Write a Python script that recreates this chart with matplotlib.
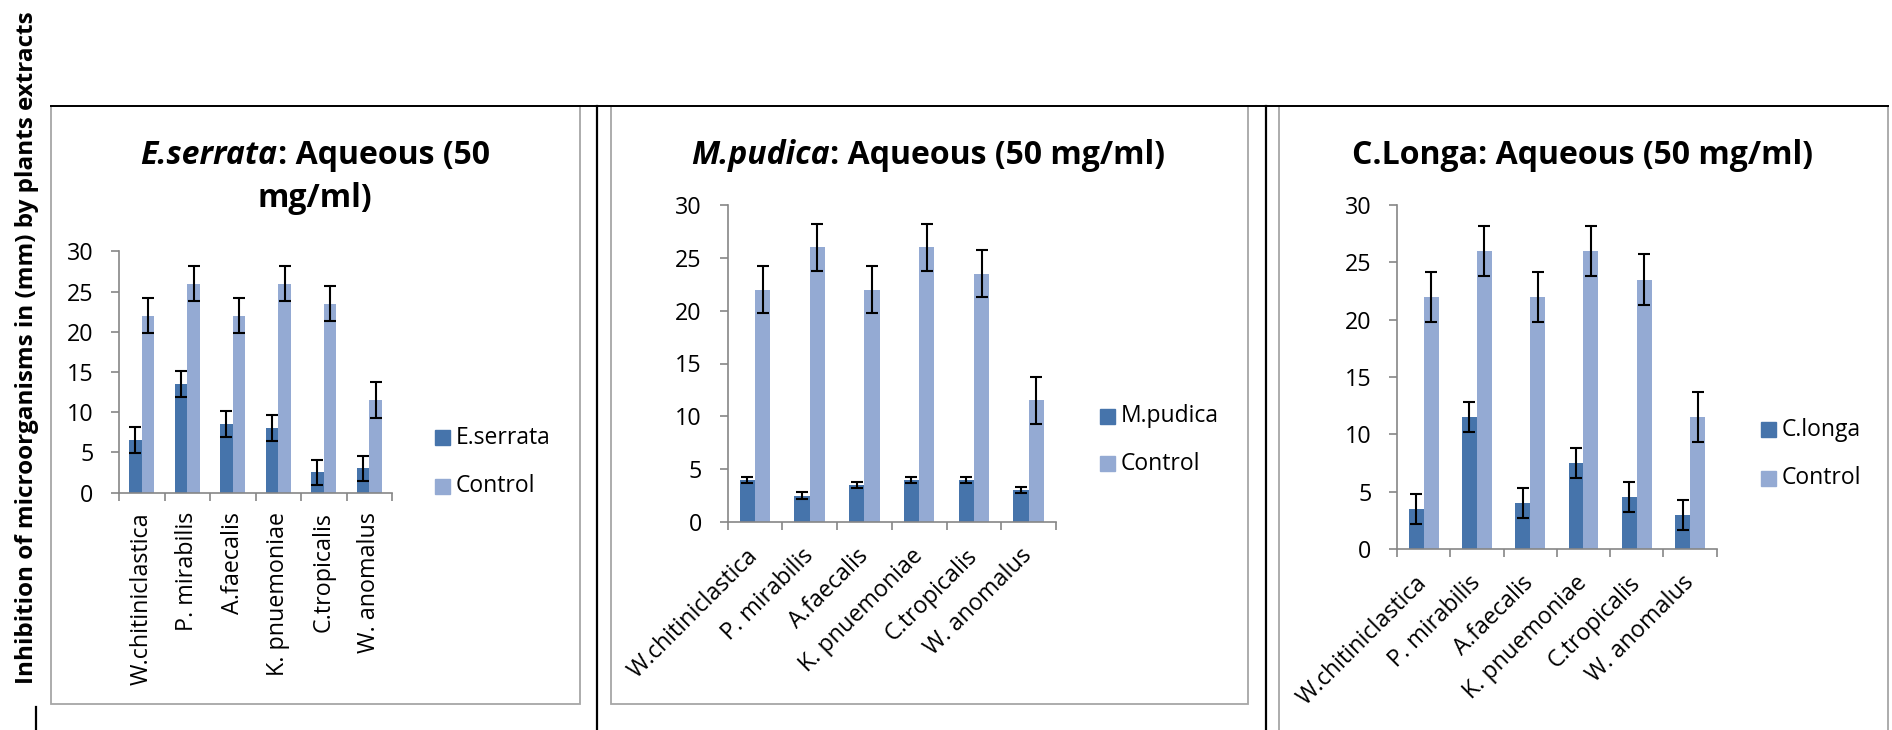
import matplotlib
matplotlib.use("Agg")
import matplotlib.pyplot as plt
from matplotlib.patches import Rectangle
from matplotlib.lines import Line2D
import numpy as np

plt.rcParams['font.family'] = ['Open Sans', 'DejaVu Sans']

# data
categories = ["W.chitiniclastica", "P. mirabilis", "A.faecalis",
              "K. pnuemoniae", "C.tropicalis", "W. anomalus"]
control = [22, 26, 22, 26, 23.5, 11.5]
control_err = [2.2, 2.2, 2.2, 2.2, 2.2, 2.2]
eserrata = [6.5, 13.5, 8.5, 8, 2.5, 3]
eserrata_err = [1.6, 1.6, 1.6, 1.6, 1.6, 1.6]
mpudica = [4, 2.5, 3.5, 4, 4, 3]
mpudica_err = [0.3, 0.3, 0.3, 0.3, 0.3, 0.3]
clonga = [3.5, 11.5, 4, 7.5, 4.5, 3]
clonga_err = [1.3, 1.3, 1.3, 1.3, 1.3, 1.3]
ylabel = 'Inhibition of microorganisms in (mm) by plants extracts'

W, H = 1892, 730
DARK = '#4674AB'
LIGHT = '#94AAD3'
AXC = '#868686'
BOX = '#A6A6A6'

fig = plt.figure(figsize=(W / 100, H / 100), dpi=100)
R = fig.canvas.get_renderer()


def fx(x):
    return x / W


def fy(y):
    return 1 - y / H


def fit(s, target, **kw):
    # font size that makes string s about target pixels wide
    t = fig.text(0, 0, s, fontsize=10, **kw)
    w = t.get_window_extent(R).width
    t.remove()
    return 10 * target / w


FS = fit(categories[0], 173)
LS = fit('Control', 79)
TS = fit('M.pudica: Aqueous (50 mg/ml)', 482, fontweight='bold')
YS = fit(ylabel, 673, fontweight='bold')


def panel(rect, vals, errs, name, rot, leg):
    ax = fig.add_axes(rect)
    x = np.arange(len(categories)) + 0.5
    bw = 0.28
    ekw = dict(ecolor='black', elinewidth=1.5, capsize=4.5, capthick=1.5)
    ax.bar(x - bw / 2, vals, bw, yerr=errs, color=DARK, error_kw=ekw, zorder=2)
    ax.bar(x + bw / 2, control, bw, yerr=control_err, color=LIGHT,
           error_kw=ekw, zorder=2)
    ax.set_xlim(0, 6)
    ax.set_ylim(0, 30)
    ax.set_yticks([0, 5, 10, 15, 20, 25, 30])
    ax.set_xticks(np.arange(7))
    ax.set_xticklabels([])
    ax.set_xticks(x, minor=True)
    for s in ['top', 'right']:
        ax.spines[s].set_visible(False)
    for s in ['left', 'bottom']:
        ax.spines[s].set_color(AXC)
        ax.spines[s].set_linewidth(1.2)
    ax.tick_params(axis='y', length=5.5, width=1.2, color=AXC,
                   labelsize=FS, pad=13)
    ax.tick_params(axis='x', which='major', length=5.5, width=1.2,
                   color=AXC)
    if rot == 90:
        ax.tick_params(axis='x', which='minor', length=0, pad=14,
                       labelsize=FS)
        ax.set_xticklabels(categories, minor=True, rotation=90,
                           ha='center', va='top')
    else:
        ax.tick_params(axis='x', which='minor', length=0, pad=22,
                       labelsize=FS)
        ax.set_xticklabels(categories, minor=True, rotation=45,
                           ha='right', va='center', rotation_mode='anchor')
    # legend: square + text, placed like the original
    lx, ly1, ly2 = leg
    for lab, col, yy in [(name, DARK, ly1), ('Control', LIGHT, ly2)]:
        fig.add_artist(Rectangle((fx(lx), fy(yy + 7.5)), fx(15), 15 / H,
                                 transform=fig.transFigure, color=col))
        fig.text(fx(lx + 21), fy(yy), lab, fontsize=LS, ha='left', va='center')
    return ax


def title(xc, y, parts):
    texts = []
    for s, st in parts:
        t = fig.text(0, fy(y), s, fontsize=TS, fontweight='bold',
                     style=st, ha='left', va='baseline')
        texts.append(t)
    widths = [t.get_window_extent(R).width for t in texts]
    x0 = xc - sum(widths) / 2
    for t, w in zip(texts, widths):
        t.set_x(fx(x0))
        x0 += w


# panel frames and separating lines
for x0, x1, y1 in [(51, 580, 704), (610.5, 1248, 704), (1279, 1888, 760)]:
    fig.add_artist(Rectangle((fx(x0), fy(y1)), fx(x1 - x0), (y1 - 106) / H,
                             transform=fig.transFigure, fill=False,
                             edgecolor=BOX, linewidth=1.3))
fig.add_artist(Line2D([fx(51), fx(1888)], [fy(105.5), fy(105.5)],
                      transform=fig.transFigure, color='black', lw=1.4))
for xv in [597, 1266]:
    fig.add_artist(Line2D([fx(xv), fx(xv)], [fy(105.5), 0],
                          transform=fig.transFigure, color='black', lw=1.6))
fig.add_artist(Line2D([fx(36), fx(36)], [fy(707), 0],
                      transform=fig.transFigure, color='black', lw=1.6))

panel([fx(119), fy(492.5), fx(392 - 119), (492.5 - 251.4) / H],
      eserrata, eserrata_err, 'E.serrata', 90, (435, 437.6, 486.5))
panel([fx(727.5), fy(522), fx(1056 - 727.5), (522 - 205) / H],
      mpudica, mpudica_err, 'M.pudica', 45, (1099.6, 416, 463.5))
panel([fx(1397), fy(549), fx(1716.7 - 1397), (549 - 205) / H],
      clonga, clonga_err, 'C.longa', 45, (1760.6, 429.5, 478))

title(315, 164, [('E.serrata', 'italic'), (': Aqueous (50', 'normal')])
title(315, 207, [('mg/ml)', 'normal')])
title(928, 164, [('M.pudica', 'italic'), (': Aqueous (50 mg/ml)', 'normal')])
title(1582, 164, [('C.Longa: Aqueous (50 mg/ml)', 'normal')])

fig.text(fx(27), fy(348), ylabel, rotation=90, fontsize=YS,
         fontweight='bold', ha='center', va='center')

fig.savefig('out.png', dpi=100)
